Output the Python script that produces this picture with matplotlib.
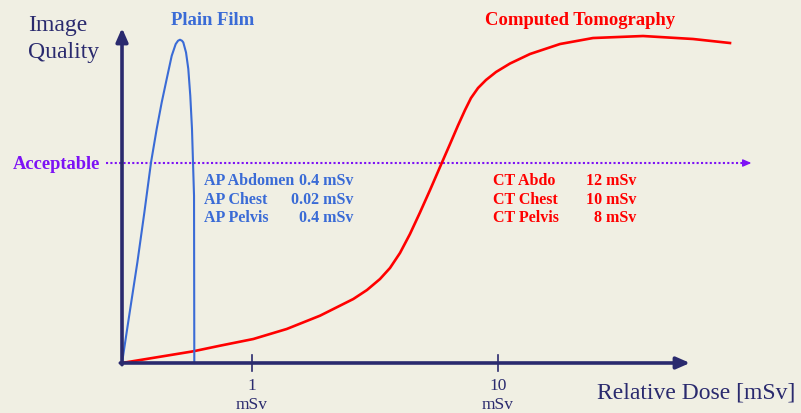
import matplotlib
matplotlib.use("Agg")
import matplotlib.pyplot as plt

# Data (schematic units: x 0..100 = x-axis arrow, y 0..100 = y-axis arrow)
plain_x = [0, 1.36, 2.71, 3.94, 5.11, 6.11, 6.99, 7.87, 8.75, 9.45, 9.86, 10.21, 10.56,
           10.79, 11.27, 11.67, 12.02, 12.32, 12.50, 12.68, 12.73]
plain_y = [0, 15.2, 30.1, 45.0, 59.9, 69.9, 77.8, 84.8, 91.7, 95.2, 96.2, 96.5, 96.2,
           95.7, 92.7, 87.8, 79.8, 69.9, 59.9, 49.9, 0]

ct_x = [0, 12.55, 17.25, 23.12, 29.00, 34.86, 40.72, 43.13, 45.42, 47.18, 48.94, 50.70,
        52.46, 54.23, 56.29, 57.75, 59.15, 60.39, 61.44, 62.68, 64.08, 65.85, 68.31,
        71.83, 77.11, 82.92, 91.73, 100.53, 107.04]
ct_y = [0, 3.49, 5.16, 7.16, 10.15, 14.12, 19.10, 21.79, 25.07, 28.36, 32.84, 38.51,
        44.93, 51.64, 59.70, 65.37, 70.90, 75.52, 79.10, 82.09, 84.48, 86.87, 89.40,
        92.24, 95.22, 97.01, 97.61, 96.72, 95.52]

acceptable_level = 59.7

tick_pos = [22.9, 66.2]
tick_labels = ["1\nmSv", "10\nmSv"]

ap_labels = ["AP Abdomen", "AP Chest", "AP Pelvis"]
ap_doses = ["0.4 mSv", "0.02 mSv", "0.4 mSv"]
ct_labels = ["CT Abdo", "CT Chest", "CT Pelvis"]
ct_doses = ["12 mSv", "10 mSv", "8 mSv"]

# Colours
bg = "#f0efe3"
navy = "#2a2a6e"
blue = "#3a6bd6"
red = "#ff0000"
purple = "#7d12f5"
serif = "Liberation Serif"

fig = plt.figure(figsize=(8.01, 4.14), dpi=100)
fig.patch.set_facecolor(bg)
ax = fig.add_axes([0, 0, 1, 1])
ax.set_facecolor(bg)
ax.set_xlim(-21.48, 119.54)
ax.set_ylim(-14.93, 108.66)
ax.axis("off")

# curves
ax.plot(ct_x, ct_y, color=red, lw=1.9, solid_joinstyle="round", zorder=3)
ax.plot(plain_x, plain_y, color=blue, lw=1.5, solid_joinstyle="round", zorder=3)

# acceptable line
ax.plot([-2.8, 109.5], [acceptable_level] * 2, color=purple, lw=1.5,
        linestyle=(0, (1, 1.1)), zorder=2)
ax.annotate("", xy=(110.8, acceptable_level), xytext=(109.5, acceptable_level),
            arrowprops=dict(arrowstyle="-|>,head_length=0.5,head_width=0.22",
                            color=purple, lw=1, shrinkA=0, shrinkB=0))
ax.text(-3.9, acceptable_level, "Acceptable", ha="right", va="center",
        fontsize=13.3, fontweight="bold", color=purple, family=serif)

# axes arrows
arrow = dict(arrowstyle="-|>,head_length=0.8,head_width=0.35", lw=2.6,
             color=navy, shrinkA=0, shrinkB=0)
ax.annotate("", xy=(0, 100), xytext=(0, -0.5), arrowprops=arrow, zorder=4)
ax.annotate("", xy=(100, 0), xytext=(-0.3, 0), arrowprops=arrow, zorder=4)

for xp, lab in zip(tick_pos, tick_labels):
    ax.plot([xp, xp], [-2.4, 2.4], color=navy, lw=1.2)
    ax.text(xp, -4.2, lab, ha="center", va="top", fontsize=12.5,
            color=navy, family=serif, linespacing=1.25)

ax.text(-16.5, 100.9, "Image", ha="left", va="center", fontsize=17,
        color=navy, family=serif)
ax.text(-16.5, 93.1, "Quality", ha="left", va="center", fontsize=17,
        color=navy, family=serif)
ax.text(118.5, -8.7, "Relative Dose [mSv]", ha="right", va="center",
        fontsize=17, color=navy, family=serif)

# titles
ax.text(16.0, 102.4, "Plain Film", ha="center", va="center", fontsize=13.4,
        fontweight="bold", color=blue, family=serif)
ax.text(80.6, 102.4, "Computed Tomography", ha="center", va="center",
        fontsize=13.4, fontweight="bold", color=red, family=serif)

# dose tables
rows_y = [54.6, 49.0, 43.6]
for y, lab, dose in zip(rows_y, ap_labels, ap_doses):
    ax.text(14.4, y, lab, ha="left", va="center", fontsize=11.5,
            fontweight="bold", color=blue, family=serif)
    ax.text(40.8, y, dose, ha="right", va="center", fontsize=11.5,
            fontweight="bold", color=blue, family=serif)
for y, lab, dose in zip(rows_y, ct_labels, ct_doses):
    ax.text(65.3, y, lab, ha="left", va="center", fontsize=11.5,
            fontweight="bold", color=red, family=serif)
    ax.text(90.5, y, dose, ha="right", va="center", fontsize=11.5,
            fontweight="bold", color=red, family=serif)

fig.savefig("out.png", dpi=100, facecolor=bg)
